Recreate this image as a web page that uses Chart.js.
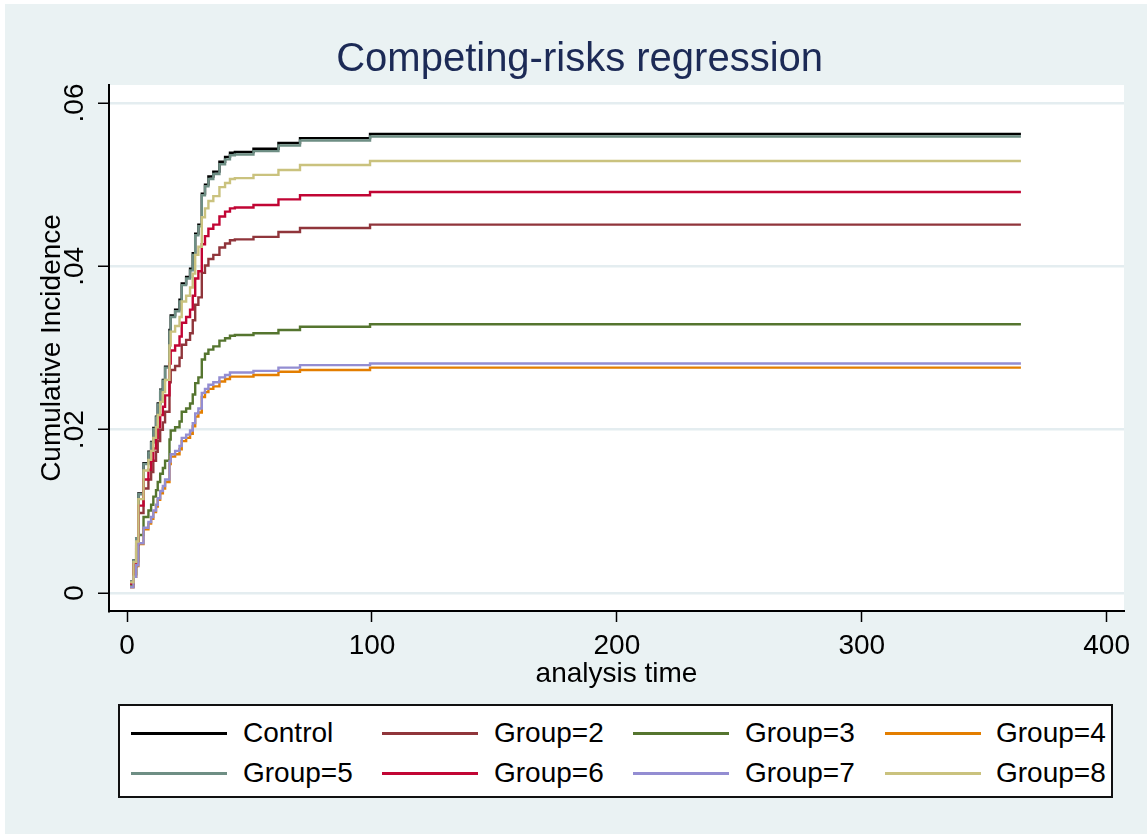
<!DOCTYPE html>
<html>
<head>
<meta charset="utf-8">
<script src="https://cdn.jsdelivr.net/npm/chart.js"></script>
<style>
  html, body { margin: 0; padding: 0; background: #fff; }
  #page { position: absolute; left: 0; top: 0; width: 1147px; height: 834px; box-sizing: border-box;
          border-top: 4px solid #fff; border-left: 5px solid #fff; background: #eaf2f3; }
  #chart { position: absolute; left: 0; top: 0; }
  #legend { position: absolute; left: 118px; top: 704px; width: 995px; height: 94px; box-sizing: border-box;
            border: 2px solid #111; background: #fff;
            font-family: "Liberation Sans", Arial, sans-serif; font-size: 28px; color: #000; }
  #legend .swatch { position: absolute; width: 96px; height: 3px; }
  #legend .name { position: absolute; line-height: 34px; white-space: nowrap; }
</style>
</head>
<body>
<div id="page"></div>
<canvas id="chart" width="1147" height="700"></canvas>
<div id="legend"></div>

<script>
// analysis time of each step
const times = [1.2, 2.6, 3.7, 4.6, 6.7, 8.7, 9.8, 10.7, 11.8, 12.5, 13.5, 14.6, 15.5, 17.3, 17.8, 19.6,
               21.4, 22.3, 24.1, 25.7, 26.8, 27.8, 29.1, 30.5, 31.8, 33.2, 35.2, 37.7, 40, 42, 44,
               51.6, 61.8, 70.6, 99.2, 365];

// cumulative incidence per group
const control = [0.0014, 0.0040, 0.0067, 0.0122, 0.0159, 0.0173, 0.0185, 0.0202, 0.0216, 0.0232, 0.0249, 0.0261,
                 0.0277, 0.0322, 0.0340, 0.0347, 0.0359, 0.0379, 0.0387, 0.0397, 0.0416, 0.0440, 0.0451, 0.0489,
                 0.0500, 0.0510, 0.0516, 0.0528, 0.0534, 0.0539, 0.0540, 0.0544, 0.0551, 0.0557, 0.0562, 0.0562];
const group2 = [0.0011, 0.0032, 0.0054, 0.0098, 0.0128, 0.0139, 0.0148, 0.0162, 0.0173, 0.0186, 0.0200, 0.0209,
                0.0222, 0.0258, 0.0273, 0.0278, 0.0288, 0.0304, 0.0310, 0.0318, 0.0334, 0.0353, 0.0362, 0.0392,
                0.0401, 0.0409, 0.0414, 0.0423, 0.0428, 0.0432, 0.0433, 0.0436, 0.0442, 0.0447, 0.0451, 0.0451];
const group3 = [0.0008, 0.0023, 0.0039, 0.0071, 0.0093, 0.0101, 0.0108, 0.0118, 0.0126, 0.0136, 0.0146, 0.0153,
                0.0162, 0.0188, 0.0199, 0.0203, 0.0210, 0.0222, 0.0226, 0.0232, 0.0243, 0.0257, 0.0264, 0.0286,
                0.0293, 0.0298, 0.0302, 0.0309, 0.0312, 0.0315, 0.0316, 0.0318, 0.0322, 0.0326, 0.0329, 0.0329];
const group4 = [0.0007, 0.0020, 0.0033, 0.0060, 0.0078, 0.0085, 0.0091, 0.0099, 0.0106, 0.0114, 0.0122, 0.0128,
                0.0136, 0.0158, 0.0167, 0.0170, 0.0176, 0.0186, 0.0190, 0.0195, 0.0204, 0.0216, 0.0221, 0.0240,
                0.0246, 0.0250, 0.0253, 0.0259, 0.0262, 0.0265, 0.0265, 0.0267, 0.0271, 0.0273, 0.0276, 0.0276];
const group5 = [0.0014, 0.0040, 0.0067, 0.0121, 0.0158, 0.0172, 0.0184, 0.0201, 0.0215, 0.0231, 0.0248, 0.0260,
                0.0276, 0.0320, 0.0338, 0.0345, 0.0357, 0.0377, 0.0385, 0.0395, 0.0414, 0.0438, 0.0449, 0.0487,
                0.0498, 0.0507, 0.0513, 0.0525, 0.0531, 0.0536, 0.0537, 0.0541, 0.0548, 0.0554, 0.0559, 0.0559];
const group6 = [0.0012, 0.0035, 0.0059, 0.0107, 0.0139, 0.0151, 0.0162, 0.0177, 0.0189, 0.0203, 0.0218, 0.0228,
                0.0242, 0.0281, 0.0297, 0.0303, 0.0314, 0.0331, 0.0338, 0.0347, 0.0364, 0.0385, 0.0394, 0.0427,
                0.0437, 0.0446, 0.0451, 0.0461, 0.0467, 0.0471, 0.0472, 0.0475, 0.0482, 0.0487, 0.0491, 0.0491];
const group7 = [0.0007, 0.0020, 0.0034, 0.0061, 0.0080, 0.0087, 0.0093, 0.0101, 0.0108, 0.0116, 0.0125, 0.0131,
                0.0139, 0.0161, 0.0170, 0.0174, 0.0180, 0.0190, 0.0194, 0.0199, 0.0208, 0.0220, 0.0226, 0.0245,
                0.0250, 0.0255, 0.0258, 0.0264, 0.0267, 0.0270, 0.0270, 0.0272, 0.0276, 0.0279, 0.0281, 0.0281];
const group8 = [0.0013, 0.0038, 0.0063, 0.0115, 0.0150, 0.0163, 0.0174, 0.0190, 0.0203, 0.0218, 0.0234, 0.0246,
                0.0261, 0.0303, 0.0320, 0.0327, 0.0338, 0.0357, 0.0364, 0.0374, 0.0391, 0.0414, 0.0424, 0.0460,
                0.0471, 0.0480, 0.0486, 0.0497, 0.0502, 0.0507, 0.0508, 0.0512, 0.0518, 0.0524, 0.0529, 0.0529];

const seriesNames = ['Control', 'Group=2', 'Group=3', 'Group=4', 'Group=5', 'Group=6', 'Group=7', 'Group=8'];
const seriesValues = [control, group2, group3, group4, group5, group6, group7, group8];
const seriesColors = ['#000000', '#90353b', '#55752f', '#e37e00', '#6e8e84', '#c10534', '#938dd2', '#cac27e'];

const xTicks = [0, 100, 200, 300, 400];
const yTicks = [0, 0.02, 0.04, 0.06];
const yTickLabels = ['0', '.02', '.04', '.06'];

const FONT = '"Liberation Sans", Arial, sans-serif';
Chart.defaults.font.family = FONT;
Chart.defaults.color = '#000';

// white plot region + rotated y tick labels like Stata
const stataLook = {
  id: 'stataLook',
  beforeDraw(chart) {
    const a = chart.chartArea, ctx = chart.ctx;
    ctx.save();
    ctx.fillStyle = '#fff';
    ctx.fillRect(a.left, a.top, a.right - a.left, a.bottom - a.top);
    ctx.restore();
  },
  afterDraw(chart) {
    const ys = chart.scales.y, ctx = chart.ctx;
    ctx.save();
    ctx.font = '28px ' + FONT;
    ctx.fillStyle = '#000';
    ctx.textAlign = 'center';
    ctx.textBaseline = 'middle';
    yTicks.forEach((v, i) => {
      ctx.save();
      ctx.translate(75, ys.getPixelForValue(v));
      ctx.rotate(-Math.PI / 2);
      ctx.fillText(yTickLabels[i], 0, 0);
      ctx.restore();
    });
    ctx.restore();
  }
};

const datasets = seriesValues.map((vals, i) => ({
  label: seriesNames[i],
  data: vals.map((v, j) => ({ x: times[j], y: v })),
  borderColor: seriesColors[i],
  borderWidth: 2.4,
  pointRadius: 0,
  stepped: true,
  fill: false,
  order: 8 - i
}));

new Chart(document.getElementById('chart'), {
  type: 'line',
  data: { datasets },
  plugins: [stataLook],
  options: {
    responsive: false,
    animation: false,
    devicePixelRatio: 1,
    layout: { padding: { left: 35.2, right: 23, top: 0, bottom: 9.2 } },
    plugins: {
      legend: { display: false },
      tooltip: { enabled: false },
      title: {
        display: true,
        text: 'Competing-risks regression',
        color: '#1c2a56',
        font: { size: 40, weight: 'normal' },
        padding: { top: 36, bottom: 1 }
      }
    },
    scales: {
      x: {
        type: 'linear',
        min: -7.4,
        max: 407.1,
        afterBuildTicks: s => { s.ticks = xTicks.map(v => ({ value: v })); },
        afterFit: s => { s.height = 79.8; },
        grid: { drawOnChartArea: false, drawTicks: true, tickLength: 11, tickColor: '#000', tickWidth: 1.5 },
        border: { color: '#000', width: 2 },
        ticks: { font: { size: 28 }, color: '#000', padding: 7, maxRotation: 0, autoSkip: false, callback: v => String(v) },
        title: { display: true, text: 'analysis time', font: { size: 28 }, color: '#000', padding: 0 }
      },
      y: {
        type: 'linear',
        min: -0.0022,
        max: 0.0622,
        afterBuildTicks: s => { s.ticks = yTicks.map(v => ({ value: v })); },
        afterFit: s => { s.width = 73.8; },
        grid: { color: '#e4edf0', lineWidth: 2.5, tickLength: 11, tickColor: '#000', tickWidth: 1.5 },
        border: { color: '#000', width: 2 },
        ticks: { display: false },
        title: { display: true, text: 'Cumulative Incidence', font: { size: 28 }, color: '#000', padding: 0 }
      }
    }
  }
});

// legend box, 4 columns x 2 rows
const legend = document.getElementById('legend');
const swatchLeft = [11, 262, 513, 765];
const nameLeft = [123, 374, 625, 876];
const rowMid = [27, 67];
seriesNames.forEach((name, i) => {
  const col = i % 4, row = Math.floor(i / 4);
  const sw = document.createElement('div');
  sw.className = 'swatch';
  sw.style.left = swatchLeft[col] + 'px';
  sw.style.top = (rowMid[row] - 1.5) + 'px';
  sw.style.background = seriesColors[i];
  legend.appendChild(sw);
  const nm = document.createElement('div');
  nm.className = 'name';
  nm.style.left = nameLeft[col] + 'px';
  nm.style.top = (rowMid[row] - 17) + 'px';
  nm.textContent = name;
  legend.appendChild(nm);
});
</script>
</body>
</html>
